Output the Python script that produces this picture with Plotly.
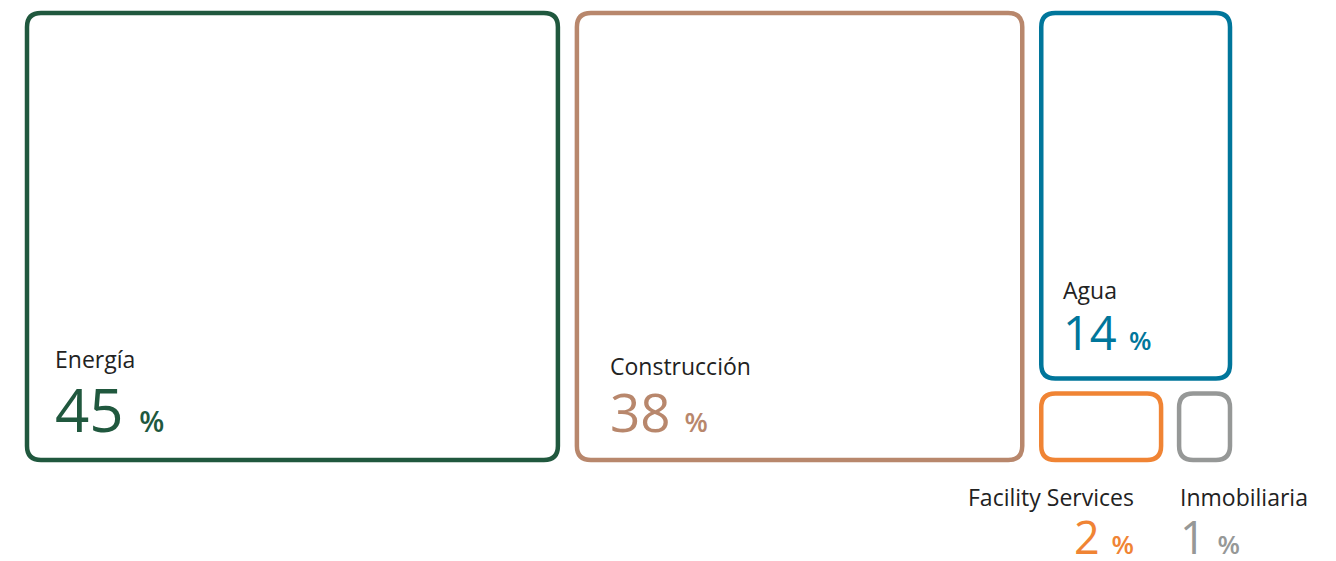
import plotly.graph_objects as go

# data
sectors = ["Energía", "Construcción", "Agua", "Facility Services", "Inmobiliaria"]
shares = [45, 38, 14, 2, 1]
colors = ["#20583e", "#b8876c", "#00769b", "#f08434", "#969897"]

# how the cells are grouped: columns, then rows in the last column
columns = [[0], [1], [2, 3, 4]]
right_rows = [[2], [3, 4]]

# styles
FONT = "Open Sans"
LABEL_COLOR = "#222222"
label_size = 23
value_sizes = [60, 53, 47, 45, 45]
pct_sizes = [29, 27, 26, 26, 26]
inner_pad = [27, 32, 21, 0, 0]
placement = ["inside", "inside", "inside", "below-right", "below-left"]
DESC = 0.293  # Open Sans descent ratio

LEFT, RIGHT, TOP, BOTTOM = 27, 1230, 13, 460
COL_GAP, ROW_GAP, SUB_GAP = 19, 15, 18
PAGE_OFF = 8  # body margin of the html page


def split(lo, hi, weights, gap):
    total = sum(weights)
    span = hi - lo + gap
    out, acc = [], 0
    for w in weights:
        a = lo + span * acc / total
        acc += w
        out.append((a, lo + span * acc / total - gap))
    return out


def rrect(x0, y0, x1, y1, r=14):
    return (f"M{x0 + r},{y0} L{x1 - r},{y0} Q{x1},{y0} {x1},{y0 + r} "
            f"L{x1},{y1 - r} Q{x1},{y1} {x1 - r},{y1} L{x0 + r},{y1} "
            f"Q{x0},{y1} {x0},{y1 - r} L{x0},{y0 + r} Q{x0},{y0} {x0 + r},{y0} Z")


# layout of the cells from the shares
boxes = {}
col_w = [sum(shares[i] for i in c) for c in columns]
for col, (x0, x1) in zip(columns, split(LEFT, RIGHT, col_w, COL_GAP)):
    if len(col) == 1:
        boxes[col[0]] = (x0, TOP, x1, BOTTOM)
        continue
    row_w = [sum(shares[i] for i in r) for r in right_rows]
    for row, (y0, y1) in zip(right_rows, split(TOP, BOTTOM, row_w, ROW_GAP)):
        parts = split(x0, x1, [shares[i] for i in row], SUB_GAP)
        for i, (a, b) in zip(row, parts):
            boxes[i] = (a, y0, b, y1)

fig = go.Figure()

for i, name in enumerate(sectors):
    x0, y0, x1, y1 = boxes[i]
    fig.add_shape(type="path", path=rrect(x0, y0, x1, y1),
                  line=dict(color=colors[i], width=4.5), fillcolor="rgba(0,0,0,0)")

    vs, ps = value_sizes[i], pct_sizes[i]
    value_text = f"{shares[i]} <span style='font-size:{ps}px;font-weight:600'>%</span>"
    if placement[i] == "inside":
        tx, anchor = x0 + inner_pad[i], "left"
        value_base = y1 - 27
        label_base = value_base - vs - 4
    else:
        label_base = y1 + 47
        value_base = label_base + 48
        if placement[i] == "below-right":
            tx, anchor = x1 - 26, "right"
        else:
            tx, anchor = x0, "left"

    fig.add_annotation(x=tx, y=label_base + DESC * label_size, text=name,
                       xanchor=anchor, yanchor="bottom", showarrow=False, borderpad=0,
                       font=dict(family=FONT, size=label_size, color=LABEL_COLOR))
    fig.add_annotation(x=tx, y=value_base + DESC * vs, text=value_text,
                       xanchor=anchor, yanchor="bottom", showarrow=False, borderpad=0,
                       font=dict(family=FONT, size=vs, color=colors[i]))

# axis ranges in page pixels, so that the picture lines up with the window
fig.update_xaxes(range=[PAGE_OFF, 1336 + PAGE_OFF], visible=False, fixedrange=True)
fig.update_yaxes(range=[561 + PAGE_OFF, PAGE_OFF], visible=False, fixedrange=True)
fig.update_layout(width=1336, height=561, margin=dict(l=0, r=0, t=0, b=0),
                  plot_bgcolor="white", paper_bgcolor="white", showlegend=False)

fig.write_html("out.html")
